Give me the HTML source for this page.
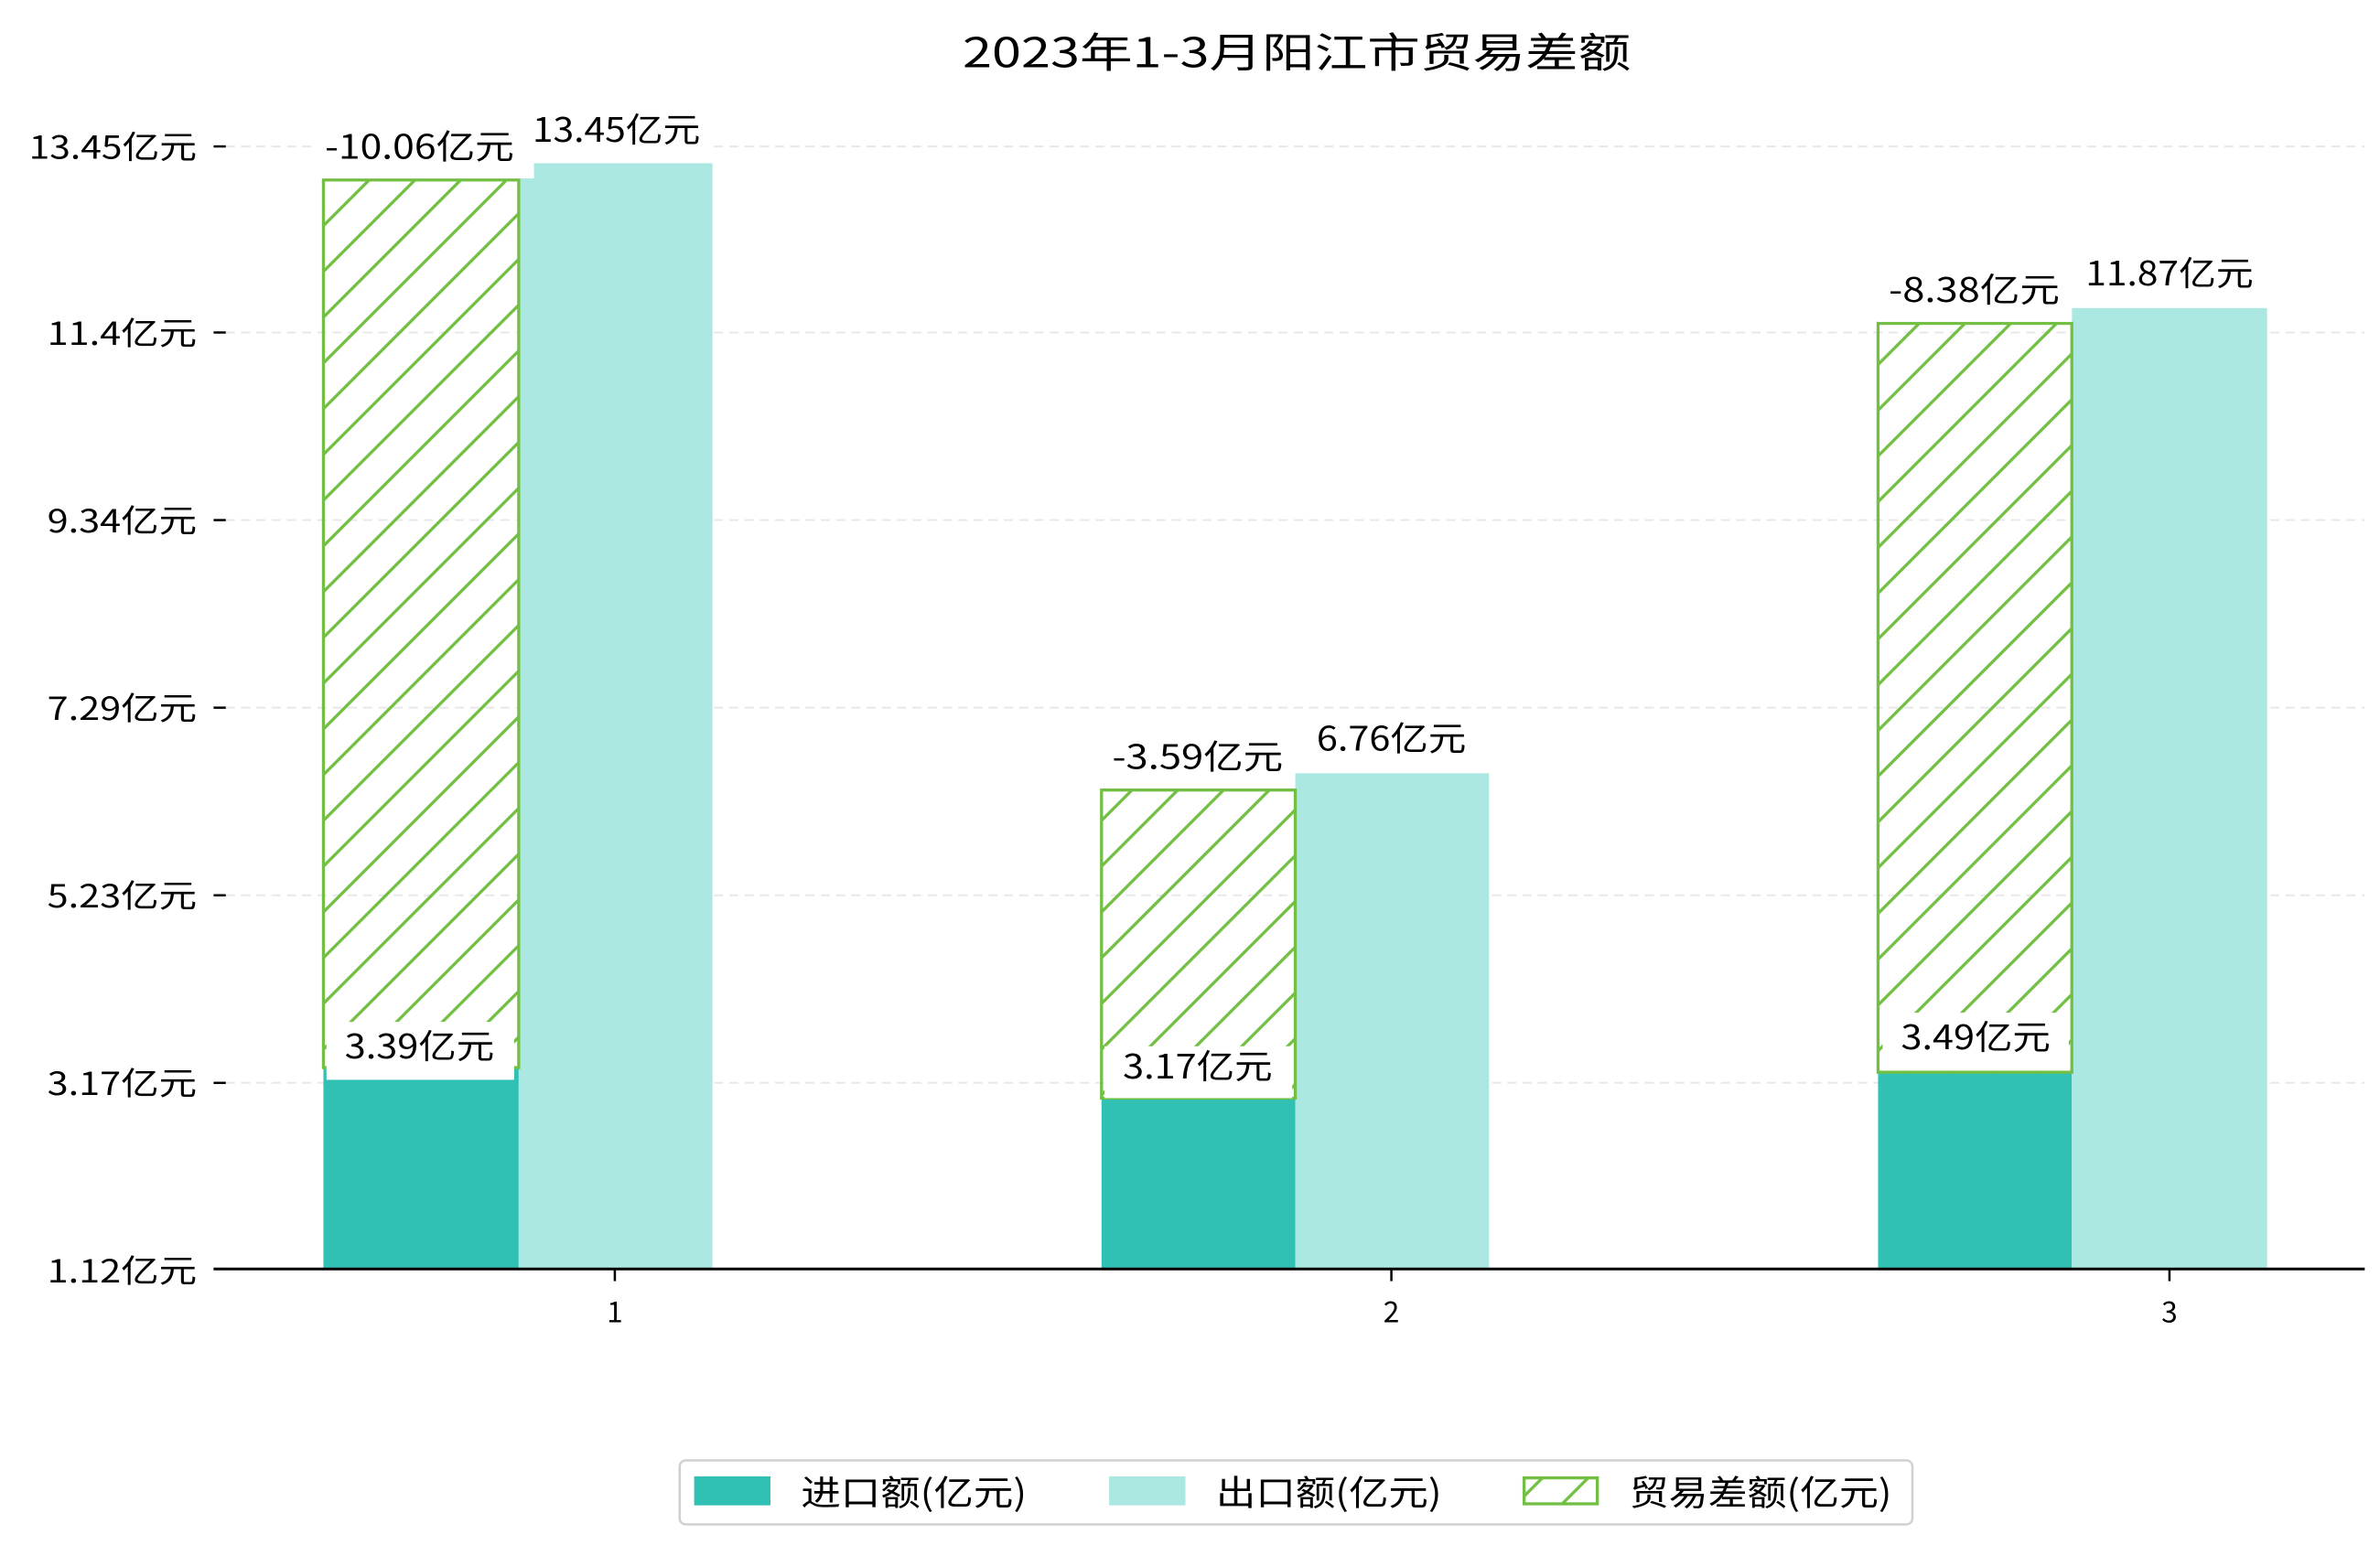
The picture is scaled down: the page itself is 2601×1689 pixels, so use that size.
<!DOCTYPE html>
<html><head><meta charset="utf-8"><style>html,body{margin:0;padding:0;background:#fff}svg{display:block}</style></head>
<body>
<svg width="2601" height="1689" viewBox="0 0 1560 1013" xmlns="http://www.w3.org/2000/svg" font-family="'WenQuanYi Zen Hei','Noto Sans CJK SC',sans-serif">
<defs>
<pattern id="h" patternUnits="userSpaceOnUse" width="30" height="30">
<path d="M-5,5 L5,-5 M0,30 L30,0 M25,35 L35,25" stroke="#72bf44" stroke-width="2"/>
</pattern>
</defs>
<rect width="1560" height="1013" fill="#fff"/>
<text x="850" y="44" font-size="27" text-anchor="middle" textLength="438" lengthAdjust="spacingAndGlyphs">2023年1-3月阳江市贸易差额</text>
<g stroke="#e8e8e8" stroke-width="1.2" stroke-dasharray="6,4">
<line x1="148" x2="1550" y1="96" y2="96"/><line x1="148" x2="1550" y1="218" y2="218"/><line x1="148" x2="1550" y1="341" y2="341"/><line x1="148" x2="1550" y1="464" y2="464"/><line x1="148" x2="1550" y1="587" y2="587"/><line x1="148" x2="1550" y1="710" y2="710"/>
</g>
<g font-size="21" text-anchor="end">
<text x="129" y="104" textLength="110" lengthAdjust="spacingAndGlyphs">13.45亿元</text>
<text x="129" y="226" textLength="98" lengthAdjust="spacingAndGlyphs">11.4亿元</text>
<text x="129" y="349" textLength="98" lengthAdjust="spacingAndGlyphs">9.34亿元</text>
<text x="129" y="472" textLength="98" lengthAdjust="spacingAndGlyphs">7.29亿元</text>
<text x="129" y="595" textLength="98" lengthAdjust="spacingAndGlyphs">5.23亿元</text>
<text x="129" y="718" textLength="98" lengthAdjust="spacingAndGlyphs">3.17亿元</text>
<text x="129" y="841" textLength="98" lengthAdjust="spacingAndGlyphs">1.12亿元</text>
</g>
<g stroke="#000" stroke-width="1.5">
<line x1="140" x2="148" y1="96" y2="96"/><line x1="140" x2="148" y1="218" y2="218"/><line x1="140" x2="148" y1="341" y2="341"/><line x1="140" x2="148" y1="464" y2="464"/><line x1="140" x2="148" y1="587" y2="587"/><line x1="140" x2="148" y1="710" y2="710"/><line x1="140" x2="148" y1="832" y2="832"/>
<line x1="403" x2="403" y1="832" y2="840"/><line x1="912" x2="912" y1="832" y2="840"/><line x1="1422" x2="1422" y1="832" y2="840"/>
</g>
<rect x="212" y="700" width="128" height="132" fill="#30c0b4"/>
<rect x="340" y="107" width="127" height="725" fill="#abe8e2"/>
<rect x="722" y="720" width="127" height="112" fill="#30c0b4"/>
<rect x="849" y="507" width="127" height="325" fill="#abe8e2"/>
<rect x="1231" y="703" width="127" height="129" fill="#30c0b4"/>
<rect x="1358" y="202" width="128" height="630" fill="#abe8e2"/>
<rect x="212" y="118" width="128" height="582" fill="url(#h)" stroke="#72bf44" stroke-width="2"/>
<rect x="722" y="518" width="127" height="202" fill="url(#h)" stroke="#72bf44" stroke-width="2"/>
<rect x="1231" y="212" width="127" height="491" fill="url(#h)" stroke="#72bf44" stroke-width="2"/>
<line x1="140" x2="1550" y1="832" y2="832" stroke="#000" stroke-width="1.8"/>
<g font-size="22" text-anchor="middle">
<rect x="206" y="80" width="144" height="37" fill="#fff"/><text x="275" y="104" textLength="124" lengthAdjust="spacingAndGlyphs">-10.06亿元</text>
<rect x="342" y="70" width="124" height="36" fill="#fff"/><text x="404" y="93" textLength="110" lengthAdjust="spacingAndGlyphs">13.45亿元</text>
<rect x="214" y="670" width="123" height="38" fill="#fff"/><text x="275" y="694" textLength="98" lengthAdjust="spacingAndGlyphs">3.39亿元</text>
<rect x="722" y="480" width="127" height="37" fill="#fff"/><text x="785" y="504" textLength="112" lengthAdjust="spacingAndGlyphs">-3.59亿元</text>
<rect x="851" y="469" width="124" height="37" fill="#fff"/><text x="912" y="492" textLength="98" lengthAdjust="spacingAndGlyphs">6.76亿元</text>
<rect x="724" y="686" width="123" height="34" fill="#fff"/><text x="785" y="707" textLength="98" lengthAdjust="spacingAndGlyphs">3.17亿元</text>
<rect x="1231" y="175" width="127" height="36" fill="#fff"/><text x="1294" y="198" textLength="112" lengthAdjust="spacingAndGlyphs">-8.38亿元</text>
<rect x="1360" y="165" width="124" height="36" fill="#fff"/><text x="1422" y="187" textLength="110" lengthAdjust="spacingAndGlyphs">11.87亿元</text>
<rect x="1234" y="664" width="122" height="38" fill="#fff"/><text x="1295" y="688" textLength="98" lengthAdjust="spacingAndGlyphs">3.49亿元</text>
</g>
<g font-size="19" text-anchor="middle">
<text x="403" y="867">1</text><text x="912" y="867">2</text><text x="1422" y="867">3</text>
</g>
<rect x="445.5" y="957.5" width="808" height="42" rx="4" fill="#fff" stroke="#d0d0d0" stroke-width="1.5"/>
<rect x="455" y="968" width="50" height="19" fill="#30c0b4"/>
<rect x="727" y="968" width="50" height="19" fill="#abe8e2"/>
<rect x="999" y="969" width="48" height="17" fill="url(#h)" stroke="#72bf44" stroke-width="2"/>
<g font-size="23">
<text x="525" y="987" textLength="148" lengthAdjust="spacingAndGlyphs">进口额(亿元)</text>
<text x="797" y="987" textLength="148" lengthAdjust="spacingAndGlyphs">出口额(亿元)</text>
<text x="1068" y="987" textLength="172" lengthAdjust="spacingAndGlyphs">贸易差额(亿元)</text>
</g>
</svg>
</body></html>
